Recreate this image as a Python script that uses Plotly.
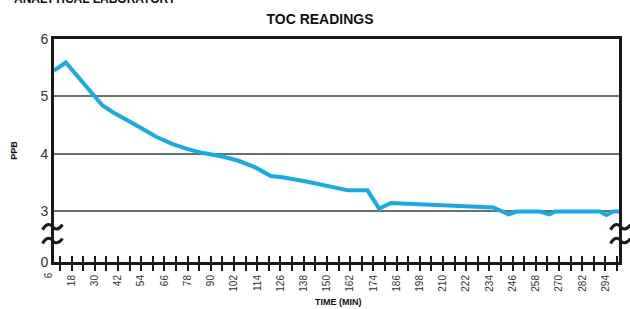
import plotly.graph_objects as go

# ---- data ----
time_min = [9, 15, 34, 40, 48, 55, 62, 70, 78, 86, 96, 104, 113, 121, 127,
            140, 151, 161, 171, 177, 183, 236, 244, 248, 260, 265, 268,
            291, 294.5, 298, 301]
toc_ppb = [5.45, 5.59, 4.84, 4.71, 4.56, 4.42, 4.29, 4.17, 4.08, 4.01, 3.95,
           3.88, 3.76, 3.61, 3.59, 3.51, 3.43, 3.36, 3.36, 3.04, 3.14, 3.06,
           2.94, 2.99, 2.99, 2.94, 2.99, 2.99, 2.93, 2.99, 2.99]

x_tick_vals = [18, 30, 42, 54, 66, 78, 90, 102, 114, 126, 138, 150, 162, 174,
               186, 198, 210, 222, 234, 246, 258, 270, 282, 294]
x_tick_text = [str(v) for v in x_tick_vals]
x_first_label = "6"
x_first_val = 6

y_tick_vals = [2.11, 3, 4, 5, 6]
y_tick_text = ["0", "3", "4", "5", "6"]

x_range = [8.93, 301.0]
y_range = [2.11, 6]

# ---- layout geometry ----
W, H = 630, 309
ML, MR, MT, MB = 54, 8, 39, 47
PW = W - ML - MR
PH = H - MT - MB
px_per_y = PH / (y_range[1] - y_range[0])

FONT = "Liberation Sans, Arial, sans-serif"
AX = "#1a1a1a"
CYAN = "#12ACE6"

fig = go.Figure()
fig.add_trace(go.Scatter(x=time_min, y=toc_ppb, mode="lines",
                         line=dict(color=CYAN, width=4),
                         showlegend=False, hoverinfo="skip"))
# helper trace for inside tick axis
fig.add_trace(go.Scatter(x=[x_range[0]], y=[y_range[0]], xaxis="x2",
                         mode="markers", marker=dict(opacity=0),
                         showlegend=False, hoverinfo="skip"))


def break_path(cx_paper, cy_val):
    pts = [(-10, 3), (-6, -4), (-2, -3), (0, 0), (2, 3), (6, 4), (10, -2)]
    conv = [(cx_paper + dx / PW, cy_val - dy / px_per_y) for dx, dy in pts]
    p = "M {:.5f},{:.5f} C {:.5f},{:.5f} {:.5f},{:.5f} {:.5f},{:.5f} C {:.5f},{:.5f} {:.5f},{:.5f} {:.5f},{:.5f}".format(
        *[c for xy in conv for c in xy])
    return p


shapes = []
for cxp in (-1.5 / PW, 1 + 1.5 / PW):
    for cyv in (3 - 15.7 / px_per_y, 3 - 29.5 / px_per_y):
        shapes.append(dict(type="path", xref="paper", yref="y",
                           path=break_path(cxp, cyv),
                           line=dict(color=AX, width=3)))

annotations = [
    dict(text="<b>ANALYTICAL LABORATORY</b>", xref="paper", yref="paper",
         x=(12 - ML) / PW, y=1 + (MT + 1) / PH, xanchor="left", yanchor="middle",
         showarrow=False, font=dict(family=FONT, size=12, color="#111")),
    dict(text="<b>PPB</b>", xref="paper", yref="paper",
         x=(13 - ML) / PW, y=0.5, xanchor="center", yanchor="middle",
         textangle=-90, showarrow=False,
         font=dict(family=FONT, size=9, color="#111")),
    dict(text="<b>TIME (MIN)</b>", xref="paper", yref="paper",
         x=(340 - ML) / PW, y=-(302 - MT - PH) / PH, xanchor="center", yanchor="middle",
         showarrow=False, font=dict(family=FONT, size=9, color="#111")),
    dict(text=x_first_label, xref="paper", yref="paper",
         x=(x_first_val - x_range[0]) / (x_range[1] - x_range[0]),
         y=-(270 - MT - PH) / PH, xanchor="center", yanchor="top",
         textangle=-90, showarrow=False,
         font=dict(family=FONT, size=10, color="#333")),
]

fig.update_layout(
    width=W, height=H,
    margin=dict(l=ML, r=MR, t=MT, b=MB),
    paper_bgcolor="white", plot_bgcolor="white",
    font=dict(family=FONT, color="#333"),
    title=dict(text="<b>TOC READINGS</b>", x=320 / W, xref="container",
               xanchor="center", y=1 - 19 / H, yref="container", yanchor="middle",
               font=dict(family=FONT, size=14, color="#111")),
    xaxis=dict(range=x_range, showline=True, linewidth=3, linecolor=AX,
               mirror=True, showgrid=False, zeroline=False,
               tickmode="array", tickvals=x_tick_vals, ticktext=x_tick_text,
               tickangle=-90, tickfont=dict(size=10, color="#333"),
               ticks="outside", ticklen=6, tickwidth=2, tickcolor=AX,
               minor=dict(tickmode="linear", tick0=6, dtick=6, ticks="outside",
                          ticklen=6, tickwidth=2, tickcolor=AX, showgrid=False)),
    xaxis2=dict(range=x_range, overlaying="x", anchor="y", side="bottom",
                showline=False, showgrid=False, zeroline=False,
                showticklabels=False, tickmode="linear", tick0=6, dtick=6,
                ticks="inside", ticklen=6, tickwidth=2, tickcolor=AX),
    yaxis=dict(range=y_range, showline=True, linewidth=3, linecolor=AX,
               mirror=True, showgrid=True, gridcolor="#6e6e6e", gridwidth=1.5,
               zeroline=False, tickmode="array", tickvals=y_tick_vals,
               ticktext=y_tick_text, ticks="", tickfont=dict(size=14, color="#333")),
    shapes=shapes,
    annotations=annotations,
)

fig.write_html("out.html", config={"displayModeBar": False},
               post_script="document.body.style.margin='0';document.body.style.overflow='hidden';")
